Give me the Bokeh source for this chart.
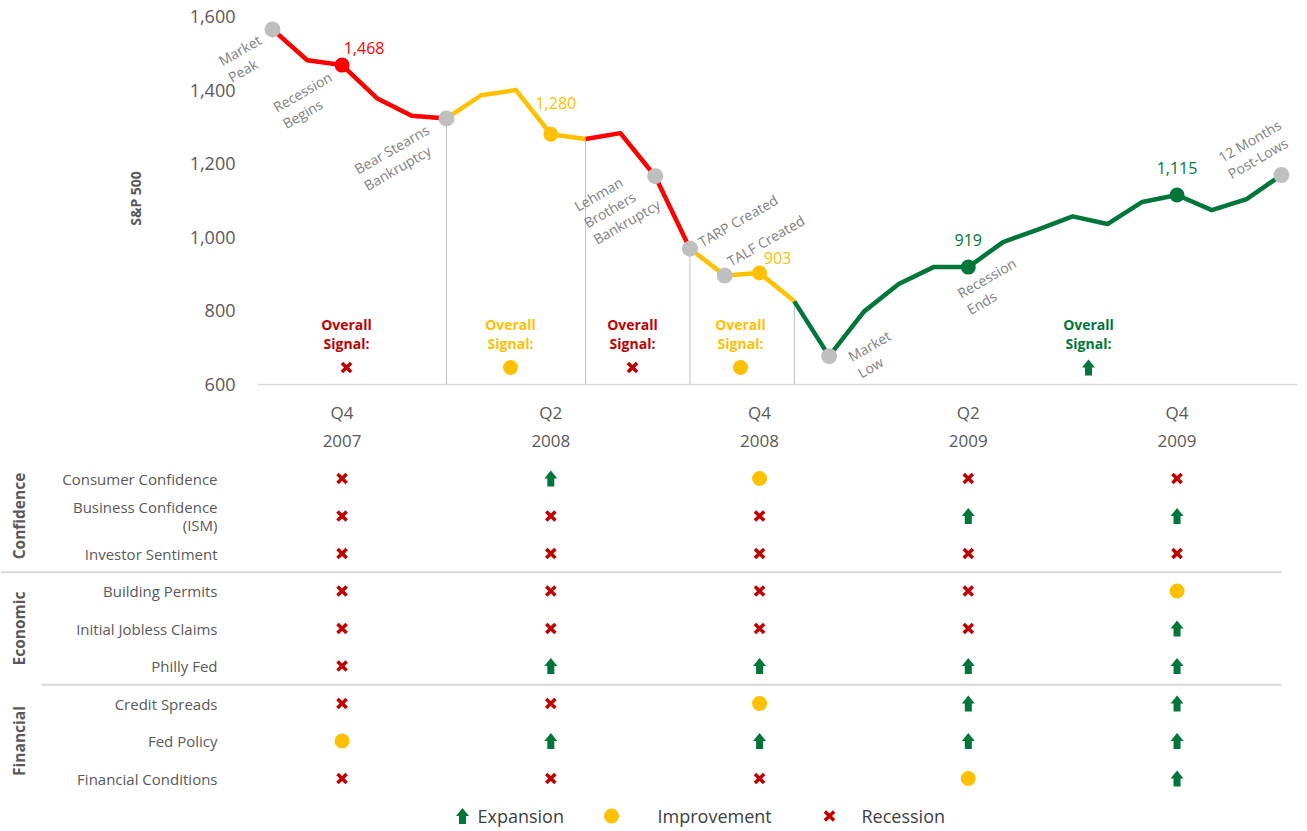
import math
from bokeh.plotting import figure
from bokeh.models import (Range1d, FixedTicker, LinearAxis, NumeralTickFormatter, ColumnDataSource,
                          LabelSet)
from bokeh.layouts import column
from bokeh.embed import file_html
from bokeh.resources import INLINE
from bokeh.core.properties import value

# ---------------- data ----------------
months = ["2007-10", "2007-11", "2007-12", "2008-01", "2008-02", "2008-03", "2008-04", "2008-05",
          "2008-06", "2008-07", "2008-08", "2008-09", "2008-10", "2008-11", "2008-12", "2009-01",
          "2009-03 low", "2009-03", "2009-04", "2009-05", "2009-06", "2009-07", "2009-08", "2009-09",
          "2009-10", "2009-11", "2009-12", "2010-01", "2010-02", "2010-03"]
sp500 = [1565, 1481, 1468, 1378, 1330, 1323, 1386, 1400, 1280, 1267, 1283, 1166, 969, 896, 903,
         826, 677, 798, 873, 919, 919, 987, 1021, 1057, 1036, 1096, 1115, 1074, 1104, 1169]

regime_bounds = [0, 5, 9, 12, 15, 29]
regime_signal = ["Recession", "Improvement", "Recession", "Improvement", "Expansion"]

quarter_idx = [2, 8, 14, 20, 26]
quarter_q = ["Q4", "Q2", "Q4", "Q2", "Q4"]
quarter_year = ["2007", "2008", "2008", "2009", "2009"]

event_idx = [0, 2, 5, 11, 12, 13, 16, 20, 29]
event_text = ["Market\nPeak", "Recession\nBegins", "Bear Stearns\nBankruptcy",
              "Lehman\nBrothers\nBankruptcy", "TARP Created", "TALF Created",
              "Market\nLow", "Recession\nEnds", "12 Months\nPost-Lows"]
grey_idx = [0, 5, 11, 12, 13, 16, 29]

groups = ["Confidence", "Economic", "Financial"]
indicators = ["Consumer Confidence", "Business Confidence\n(ISM)", "Investor Sentiment",
              "Building Permits", "Initial Jobless Claims", "Philly Fed",
              "Credit Spreads", "Fed Policy", "Financial Conditions"]
indicator_group = ["Confidence"] * 3 + ["Economic"] * 3 + ["Financial"] * 3
# columns: Q4 2007, Q2 2008, Q4 2008, Q2 2009, Q4 2009  (R=Recession, I=Improvement, E=Expansion)
signals = [
    ["R", "E", "I", "R", "R"],
    ["R", "R", "R", "E", "E"],
    ["R", "R", "R", "R", "R"],
    ["R", "R", "R", "R", "I"],
    ["R", "R", "R", "R", "E"],
    ["R", "E", "E", "E", "E"],
    ["R", "R", "I", "E", "E"],
    ["I", "E", "E", "E", "E"],
    ["R", "R", "R", "I", "E"],
]
legend_items = ["Expansion", "Improvement", "Recession"]

# ---------------- style / layout ----------------
FONT = "Open Sans"
RED_LINE = "#FF0000"
RED = "#C00000"
YELLOW = "#FFC000"
GREEN = "#00763A"
GREY_DOT = "#BFBFBF"
TXT = "#595959"
NOTE = "#7F7F7F"
sig_color = {"Recession": RED, "Improvement": YELLOW, "Expansion": GREEN}
line_color = {"Recession": RED_LINE, "Improvement": YELLOW, "Expansion": GREEN}
code_name = {"R": "Recession", "I": "Improvement", "E": "Expansion"}

W = 1307
X0 = 272.0          # page-x pixel of index 0
DX = 34.79          # pixels per month
PX_PER_VAL = 368.0 / 1000.0

def ix(page_px):
    return (page_px - X0) / DX

def regime_of(i):
    for k in range(len(regime_signal)):
        if regime_bounds[k] <= i < regime_bounds[k + 1]:
            return regime_signal[k]
    return regime_signal[-1]

ARROW = [(-3.5, -8), (3.5, -8), (3.5, 0), (6.5, 0), (0, 8), (-6.5, 0), (-3.5, 0)]

def arrows(fig, xs, ys, sx, sy, color):
    px = [[x + dx * sx for dx, dy in ARROW] for x in xs]
    py = [[y + dy * sy for dx, dy in ARROW] for y in ys]
    fig.patches(px, py, fill_color=color, line_color=None)

def icons(fig, xs, ys, kinds, sx, sy):
    for kind in ["Recession", "Improvement", "Expansion"]:
        xx = [x for x, k in zip(xs, kinds) if k == kind]
        yy = [y for y, k in zip(ys, kinds) if k == kind]
        if not xx:
            continue
        if kind == "Recession":
            fig.scatter(xx, yy, marker="x", size=13, line_width=3.5, line_color=RED)
        elif kind == "Improvement":
            fig.scatter(xx, yy, marker="circle", size=15, fill_color=YELLOW, line_color=None)
        else:
            arrows(fig, xx, yy, sx, sy, GREEN)

# ---------------- top chart ----------------
H1 = 464
FRAME_L = 200       # plot frame starts left of the visual plot area so side notes are not clipped
AREA_L = 257        # visual left edge of the plot area
p = figure(width=W, height=H1, output_backend="svg", toolbar_location=None,
           x_range=Range1d(ix(FRAME_L), ix(1297)),
           y_range=Range1d(600 - 2 / PX_PER_VAL, 600 + 374 / PX_PER_VAL),
           min_border_left=FRAME_L, min_border_right=10, min_border_top=10, min_border_bottom=78,
           frame_align=False)
p.outline_line_color = None
p.grid.visible = False

p.yaxis.ticker = FixedTicker(ticks=[600, 800, 1000, 1200, 1400, 1600])
p.yaxis.formatter = NumeralTickFormatter(format="0,0")
p.yaxis.axis_line_color = None
p.yaxis.major_tick_line_color = None
p.yaxis.minor_tick_line_color = None
p.yaxis.major_label_text_font = FONT
p.yaxis.major_label_text_font_size = "18px"
p.yaxis.major_label_text_color = TXT
p.yaxis.major_label_standoff = 16 - (AREA_L - FRAME_L)
p.yaxis.axis_label = "S&P 500"
p.yaxis.axis_label_text_font = FONT
p.yaxis.axis_label_text_font_style = "bold"
p.yaxis.axis_label_text_font_size = "14px"
p.yaxis.axis_label_text_color = TXT
p.yaxis.axis_label_standoff = 42

p.xaxis.ticker = FixedTicker(ticks=quarter_idx)
p.xaxis.major_label_overrides = {i: q for i, q in zip(quarter_idx, quarter_q)}
p.xaxis.axis_line_color = None
p.xaxis.major_tick_line_color = None
p.xaxis.minor_tick_line_color = None
p.xaxis.major_label_text_font = FONT
p.xaxis.major_label_text_font_size = "17px"
p.xaxis.major_label_text_color = TXT
p.xaxis.major_label_standoff = 8

ax2 = LinearAxis(ticker=FixedTicker(ticks=quarter_idx),
                 major_label_overrides={i: y for i, y in zip(quarter_idx, quarter_year)},
                 axis_line_color=None, major_tick_line_color=None, minor_tick_line_color=None,
                 major_label_text_font=FONT, major_label_text_font_size="17px",
                 major_label_text_color=TXT, major_label_standoff=2)
p.add_layout(ax2, "below")

# baseline of the plot area
p.segment(x0=[ix(AREA_L)], x1=[ix(1297)], y0=[600], y1=[600], line_color="#D9D9D9", line_width=1.5)

# vertical guides at regime changes
inner = regime_bounds[1:-1]
p.segment(x0=inner, x1=inner, y0=[sp500[i] for i in inner], y1=[600] * len(inner),
          line_color=GREY_DOT, line_width=1)

# line by regime
for k, sig in enumerate(regime_signal):
    a, b = regime_bounds[k], regime_bounds[k + 1]
    p.line(list(range(a, b + 1)), sp500[a:b + 1], line_color=line_color[sig], line_width=4.5,
           line_join="round")

# event markers
p.scatter(grey_idx, [sp500[i] for i in grey_idx], size=16, fill_color=GREY_DOT, line_color=None)
q_cols = [line_color[regime_of(i)] for i in quarter_idx]
p.scatter(quarter_idx, [sp500[i] for i in quarter_idx], size=15, fill_color=q_cols, line_color=None)

# value labels
val_off = [(22, -17), (5, -31), (18, -15), (0, -27), (0, -27)]
vsrc = ColumnDataSource(dict(x=quarter_idx, y=[sp500[i] for i in quarter_idx],
                             t=["{:,}".format(sp500[i]) for i in quarter_idx],
                             c=q_cols, dx=[o[0] for o in val_off], dy=[-o[1] for o in val_off]))
p.add_layout(LabelSet(x="x", y="y", text="t", source=vsrc,
                      text_color="c", x_offset="dx", y_offset="dy",
                      text_align="center", text_baseline="middle", text_font=value(FONT),
                      text_font_size="16px"))

# event annotations (rotated)
ev_off = [(-28, 29), (-35, 35), (-50, 39), (-38, 29), (48, -28), (41, -35), (45, -2), (23, 19), (-27, -26)]
esrc = ColumnDataSource(dict(x=event_idx, y=[sp500[i] for i in event_idx], t=event_text,
                             dx=[o[0] for o in ev_off], dy=[-o[1] for o in ev_off]))
p.add_layout(LabelSet(x="x", y="y", text="t", source=esrc, x_offset="dx", y_offset="dy",
                      angle=math.radians(30), text_align="center", text_baseline="middle",
                      text_font=value(FONT), text_font_size="14px", text_color=NOTE,
                      text_line_height=1.0))

# overall signals
sig_x = [ix(346), ix(510), ix(632), ix(740), ix(1088)]
sig_text_y = 600 + (384 - 333.5) / PX_PER_VAL
sig_icon_y = 600 + (384 - 367) / PX_PER_VAL
p.text(x=sig_x, y=[sig_text_y] * len(sig_x), text=["Overall\nSignal:"] * len(sig_x),
       text_color=[sig_color[s] for s in regime_signal], text_align="center", text_baseline="middle",
       text_font=value(FONT), text_font_size="14px", text_font_style="bold", text_line_height=1.0)
icons(p, sig_x, [sig_icon_y] * len(sig_x), regime_signal, 1 / DX, 1 / PX_PER_VAL)

# ---------------- table ----------------
H2 = 367
ROW = 37.5
TOP0 = 14.0
t = figure(width=W, height=H2, output_backend="svg", toolbar_location=None,
           x_range=Range1d(ix(0), ix(W)),
           y_range=Range1d((H2 - TOP0) / ROW, -TOP0 / ROW),
           min_border=0, x_axis_location=None, y_axis_location=None, frame_align=False)
t.outline_line_color = None
t.grid.visible = False

rows = list(range(len(indicators)))
t.text(x=[ix(217)] * len(rows), y=rows, text=indicators, text_align="right", text_baseline="middle",
       text_font=value(FONT), text_font_size="15px", text_color=TXT, text_line_height=0.9)

grp_rows = [[r for r in rows if indicator_group[r] == g] for g in groups]
t.text(x=[ix(18)] * len(groups), y=[sum(r) / len(r) for r in grp_rows], text=groups,
       angle=math.pi / 2, text_align="center", text_baseline="middle", text_font=value(FONT),
       text_font_size="15.5px", text_font_style="bold", text_color=TXT)

sep_y = [max(grp_rows[0]) + 0.5, max(grp_rows[1]) + 0.5]
t.segment(x0=[ix(0), ix(41)], x1=[ix(1281), ix(1281)], y0=sep_y, y1=sep_y,
          line_color="#D9D9D9", line_width=2)

xs, ys, ks = [], [], []
for r, rowsig in enumerate(signals):
    for c, s in enumerate(rowsig):
        xs.append(quarter_idx[c]); ys.append(r); ks.append(code_name[s])
icons(t, xs, ys, ks, 1 / DX, -1 / ROW)

# legend
leg_y = len(indicators)
icons(t, [ix(462), ix(611), ix(829)], [leg_y] * 3, legend_items, 1 / DX, -1 / ROW)
t.text(x=[ix(477), ix(657), ix(861)], y=[leg_y] * 3, text=legend_items, text_align="left",
       text_baseline="middle", text_font=value(FONT), text_font_size="18px", text_color="#404040")

layout = column(p, t, spacing=0)
open("out.html", "w").write(file_html(layout, INLINE))
